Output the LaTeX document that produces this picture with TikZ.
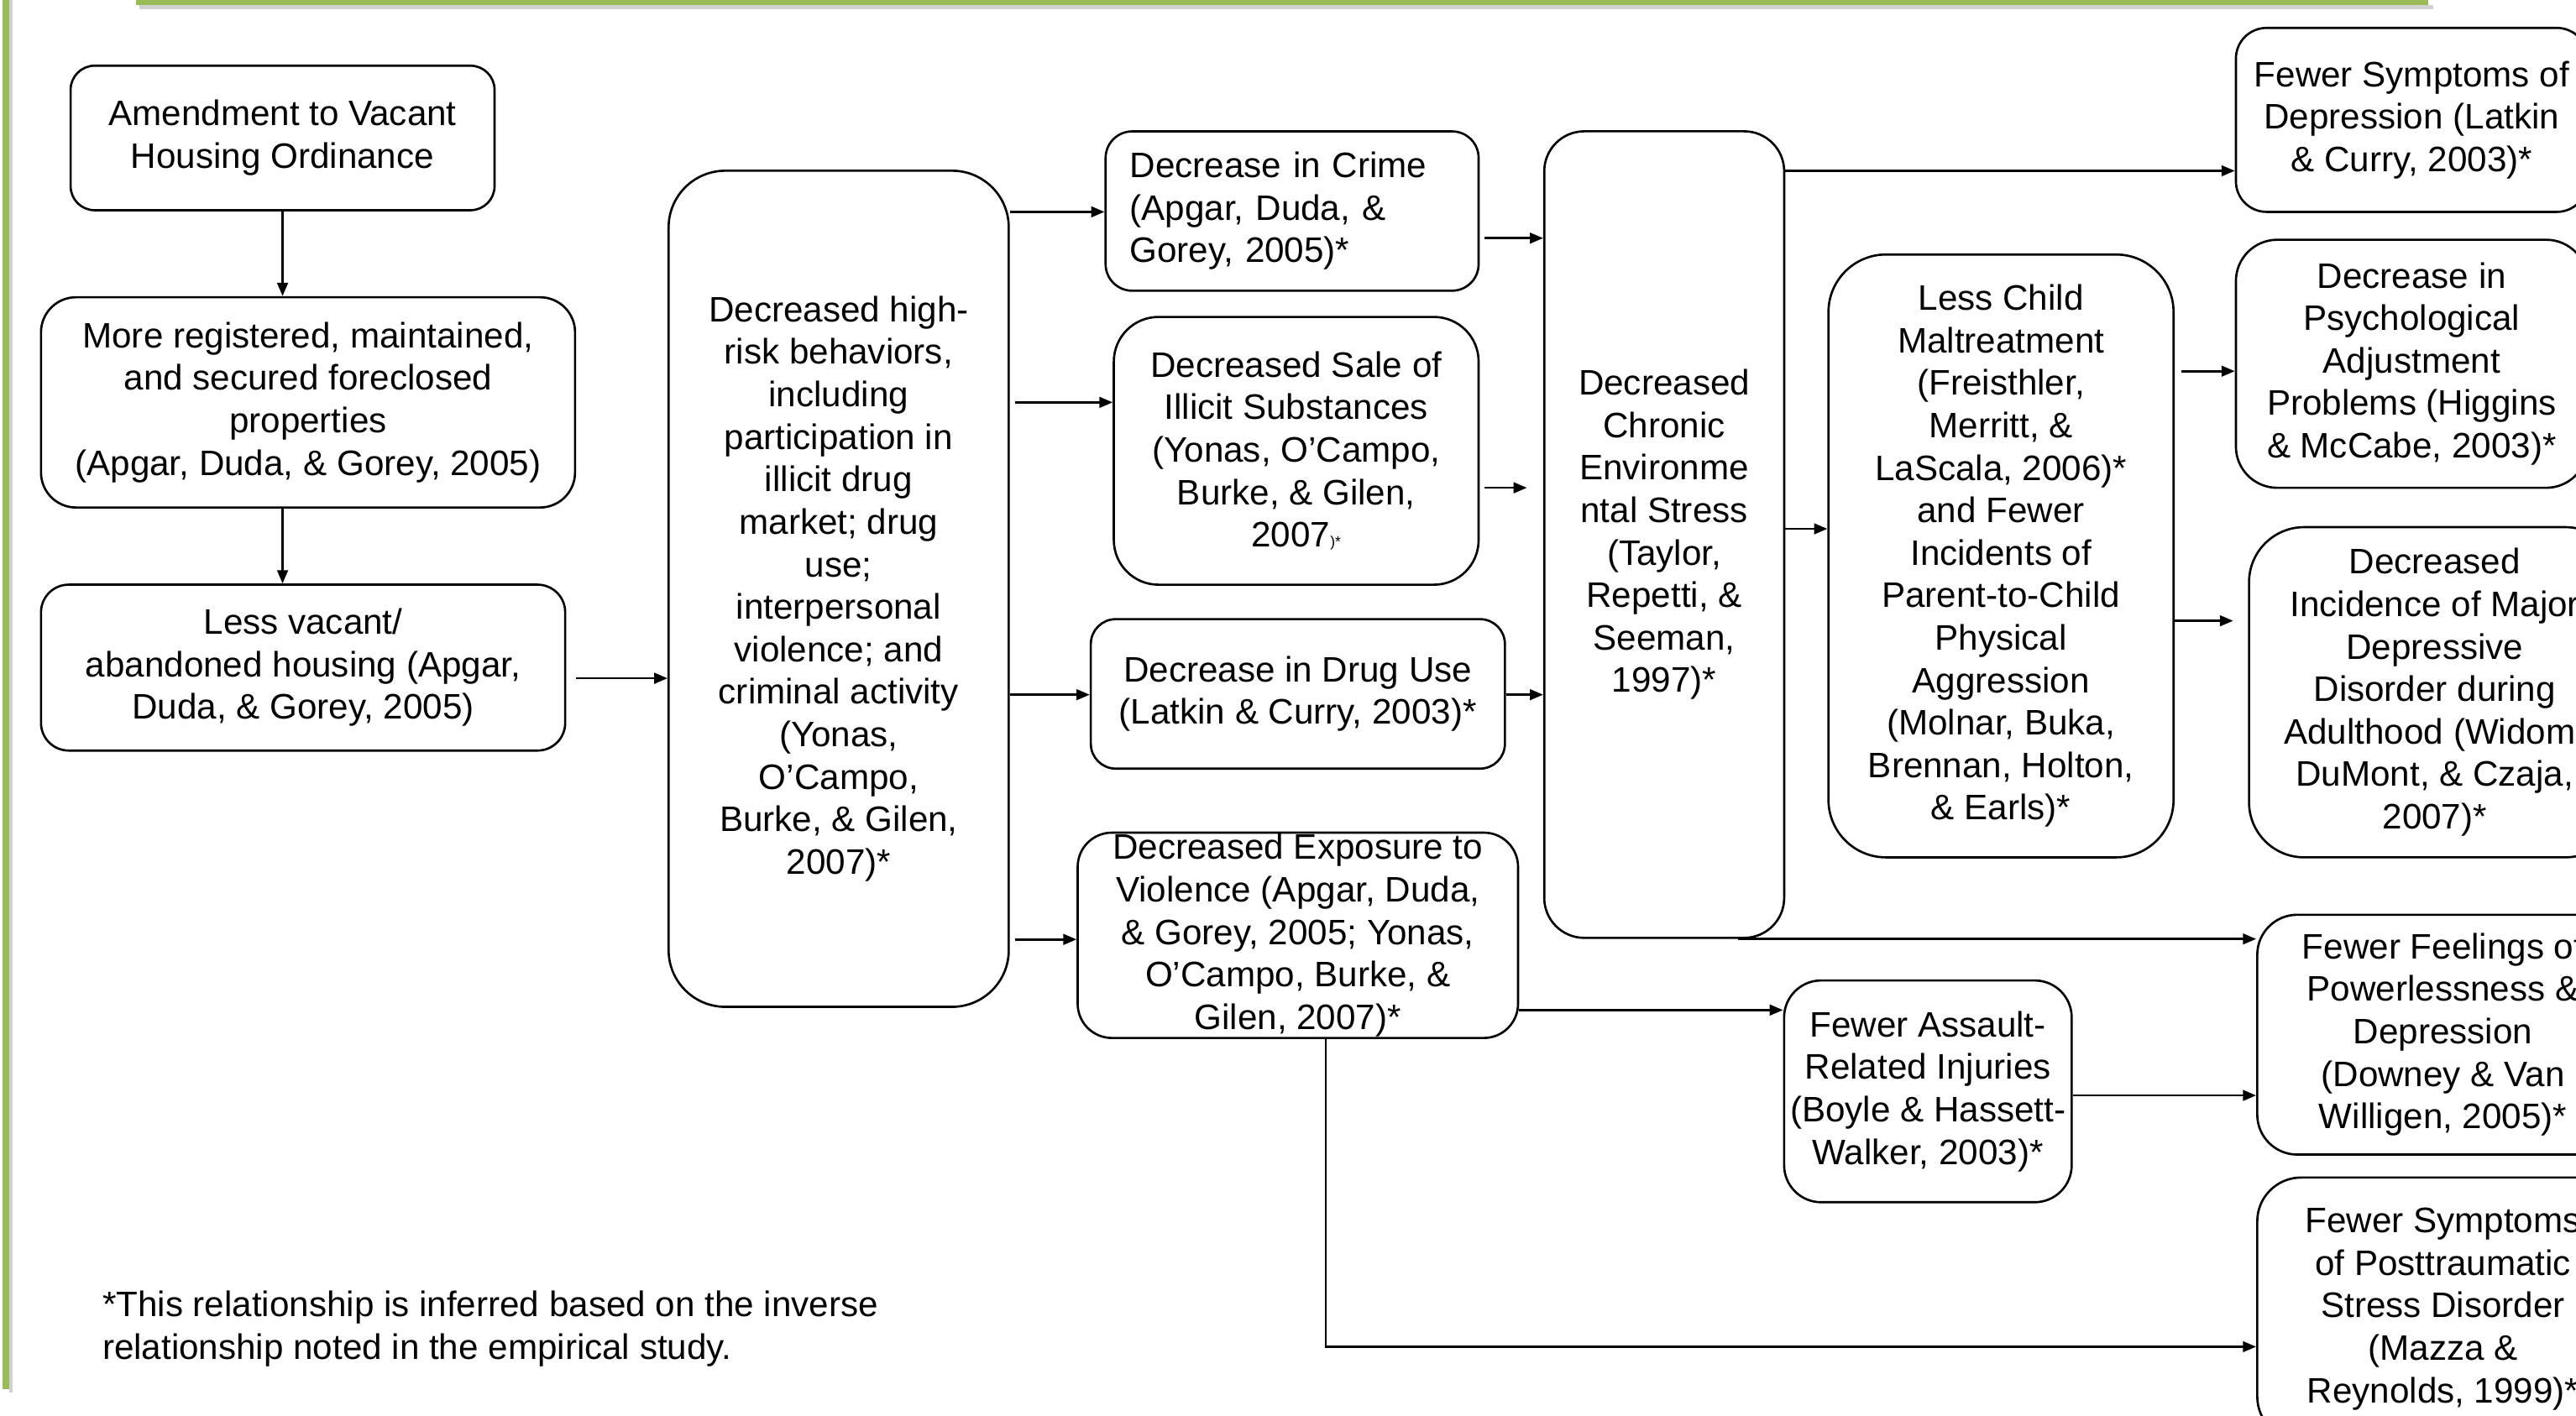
\documentclass[tikz,border=0pt]{standalone}
\usepackage{fontspec}
\setmainfont{Liberation Sans}
\usetikzlibrary{arrows.meta}
\definecolor{frameg}{RGB}{155,187,89}
\def\unitpt{0.5567}
\newcommand{\rbox}[7][]{%
  \pgfmathsetmacro\bw{(#5-#3)*\unitpt}%
  \pgfmathsetmacro\bh{(#6-#4)*\unitpt}%
  \pgfmathsetmacro\br{min(#5-#3,#6-#4)*\unitpt*0.1667}%
  \node[box, minimum width=\bw pt, minimum height=\bh pt, rounded corners=\br pt, #1] (#2) at ({(#3+#5)/2},{(#4+#6)/2}) {#7};}
\tikzset{
  box/.style={draw, line width=0.75pt, align=center, inner sep=0pt, font=\fontsize{12}{14.4}\selectfont},
  arr/.style={-{Triangle[length=4.5pt,width=3.6pt]}, line width=0.75pt},
  note/.style={align=left, inner sep=0pt, font=\fontsize{12}{14.4}\selectfont}
}
\begin{document}
\begin{tikzpicture}[x=0.019566cm, y=-0.019566cm]
\useasboundingbox (0,0) rectangle (1568,862);
\clip (0,0) rectangle (1568,862);
\fill[white] (0,0) rectangle (1568,862);
% frame bars
\fill[black!18] (85,3) rectangle (1481,5.5);
\fill[frameg] (83,-5) rectangle (1478,3.2);
\fill[black!18] (5.5,0) rectangle (7.5,848);
\fill[frameg] (1.5,0) rectangle (5.5,846);

% left column
\rbox{A}{43}{40}{301}{128}{Amendment to Vacant\\Housing Ordinance}
\rbox{B}{25}{181}{350}{309}{More registered, maintained,\\and secured foreclosed\\properties\\(Apgar, Duda, \& Gorey, 2005)}
\rbox{C}{25}{356}{344}{457}{Less vacant/\\abandoned housing (Apgar,\\Duda, \& Gorey, 2005)}
\rbox{D}{407}{104}{614}{613}{Decreased high-\\risk behaviors,\\including\\participation in\\illicit drug\\market; drug\\use;\\interpersonal\\violence; and\\criminal activity\\(Yonas,\\O’Campo,\\Burke, \& Gilen,\\2007)*}

% second column
\rbox[align=left, text width=110pt]{E}{673}{80}{900}{177}{Decrease in Crime\\(Apgar, Duda, \&\\Gorey, 2005)*}
\rbox{F}{678}{193}{900}{356}{Decreased Sale of\\Illicit Substances\\(Yonas, O’Campo,\\Burke, \& Gilen,\\2007{\fontsize{5}{6}\selectfont)*}}
\rbox{G}{664}{377}{916}{468}{Decrease in Drug Use\\(Latkin \& Curry, 2003)*}
\rbox{H}{656}{507}{924}{632}{Decreased Exposure to\\Violence (Apgar, Duda,\\\& Gorey, 2005; Yonas,\\O’Campo, Burke, \&\\Gilen, 2007)*}

% third column
\rbox{I}{940}{80}{1086}{571}{Decreased\\Chronic\\Environme\\ntal Stress\\(Taylor,\\Repetti, \&\\Seeman,\\1997)*}
\rbox{J}{1113}{155}{1323}{522}{Less Child\\Maltreatment\\(Freisthler,\\Merritt, \&\\LaScala, 2006)*\\and Fewer\\Incidents of\\Parent-to-Child\\Physical\\Aggression\\(Molnar, Buka,\\Brennan, Holton,\\\& Earls)*}
\rbox{L}{1086}{597}{1261}{732}{Fewer Assault-\\Related Injuries\\(Boyle \& Hassett-\\Walker, 2003)*}

% right column (cut by the edge)
\rbox{Ka}{1361}{17}{1575}{129}{Fewer Symptoms of\\Depression (Latkin\\\& Curry, 2003)*}
\rbox{Kb}{1361}{146}{1575}{297}{Decrease in\\Psychological\\Adjustment\\Problems (Higgins\\\& McCabe, 2003)*}
\rbox{Kc}{1369}{321}{1595}{522}{Decreased\\Incidence of Major\\Depressive\\Disorder during\\Adulthood (Widom,\\DuMont, \& Czaja,\\2007)*}
\rbox{Kd}{1374}{557}{1600}{703}{Fewer Feelings of\\Powerlessness \&\\Depression\\(Downey \& Van\\Willigen, 2005)*}
\rbox{Ke}{1374}{717}{1600}{877}{Fewer Symptoms\\of Posttraumatic\\Stress Disorder\\(Mazza \&\\Reynolds, 1999)*}

% footnote
\node[note, anchor=west] (fn) at (62,809) {*This relationship is inferred based on the inverse\\relationship noted in the empirical study.};

% connectors
\draw[arr] (A.south) -- (A.south |- B.north);
\draw[arr] (B.south -| A.south) -- (C.north -| A.south);
\draw[arr] (C.east |- 0,413) ++(6,0) -- (D.west |- 0,413);
\draw[arr] (D.east |- 0,129) -- (E.west |- 0,129);
\draw[arr] (D.east |- 0,245) ++(3,0) -- (F.west |- 0,245);
\draw[arr] (D.east |- 0,423) -- (G.west |- 0,423);
\draw[arr] (D.east |- 0,572) ++(3,0) -- (H.west |- 0,572);
\draw[arr] (E.east |- 0,145) ++(3,0) -- (I.west |- 0,145);
\draw[arr, shorten >=5.5pt] (F.east |- 0,297) ++(3,0) -- (I.west |- 0,297);
\draw[arr] (G.east |- 0,423) -- (I.west |- 0,423);
\draw[arr] (I.east |- 0,104) -- (Ka.west |- 0,104);
\draw[arr] (I.east |- 0,322) -- (J.west |- 0,322);
\draw[arr] (I.south -| 1058,0) -- (Kd.west |- I.south);
\draw[arr] (J.east |- 0,226) ++(4,0) -- (Kb.west |- 0,226);
\draw[arr, shorten >=5pt] (J.east |- 0,378) -- (Kc.west |- 0,378);
\draw[arr] (H.east |- 0,615) -- (L.west |- 0,615);
\draw[arr] (L.east |- 0,667) -- (Kd.west |- 0,667);
\draw[arr] (H.south -| 807,0) |- (Ke.west |- 0,820);
\end{tikzpicture}
\end{document}
